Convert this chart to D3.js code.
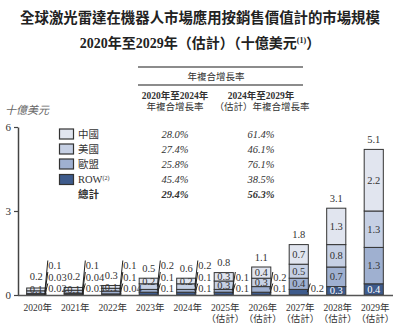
<!DOCTYPE html>
<html>
<head>
<meta charset="utf-8">
<script src="https://cdn.jsdelivr.net/npm/d3@7"></script>
<style>
  body { margin: 0; background: #fff; }
  svg { display: block; }
  text { fill: #333; }
</style>
</head>
<body>
<div id="chart"></div>
<script>
// data
const years = ['2020', '2021', '2022', '2023', '2024', '2025', '2026', '2027', '2028', '2029'];
const estimated = [false, false, false, false, false, true, true, true, true, true];
const china = [0.1, 0.1, 0.1, 0.2, 0.2, 0.3, 0.4, 0.7, 1.3, 2.2];
const usa = [0.1, 0.1, 0.1, 0.2, 0.2, 0.3, 0.3, 0.5, 0.8, 1.3];
const eu = [0.03, 0.04, 0.1, 0.1, 0.1, 0.1, 0.2, 0.4, 0.7, 1.3];
const rowData = [0.02, 0.03, 0.04, 0.1, 0.1, 0.1, 0.1, 0.2, 0.3, 0.4];
const totals = ['0.2', '0.2', '0.3', '0.5', '0.6', '0.8', '1.1', '1.8', '3.1', '5.1'];

const regions = ['中國', '美國', '歐盟', 'ROW'];
const cagr2020to2024 = ['28.0%', '27.4%', '25.8%', '45.4%', '29.4%'];
const cagr2024to2029 = ['61.4%', '46.1%', '76.1%', '38.5%', '56.3%'];
const yTicks = [0, 3, 6];

const colors = { 'ROW': '#3e5b8c', '歐盟': '#9fb0d0', '美國': '#c6d0e4', '中國': '#e1e5ef' };
const serif = '"Liberation Serif", "Noto Sans CJK TC", serif';
const cjk = '"Noto Sans CJK TC", sans-serif';

const W = 407, H = 333;
const svg = d3.select('#chart').append('svg')
    .attr('width', W)
    .attr('height', H);

// title
svg.append('text')
    .attr('x', 200).attr('y', 23)
    .attr('text-anchor', 'middle')
    .style('font-family', cjk).style('font-weight', 'bold').style('font-size', '14.4px')
    .style('fill', '#222')
    .text('全球激光雷達在機器人市場應用按銷售價值計的市場規模');
const t2 = svg.append('text')
    .attr('x', 200).attr('y', 48)
    .attr('text-anchor', 'middle')
    .style('font-family', serif).style('font-weight', 'bold').style('font-size', '14px')
    .style('fill', '#222');
t2.append('tspan').text('2020年至2029年（估計）（十億美元');
t2.append('tspan').attr('dy', -5).style('font-size', '8px').text('(1)');
t2.append('tspan').attr('dy', 5).text('）');

// scales
const x = d3.scaleBand().domain(years).range([17.5, 392.5]).paddingInner(0.49).paddingOuter(0.245);
const y = d3.scaleLinear().domain([0, 6]).range([295, 127]);

// stacked data, bottom to top
const keys = ['ROW', '歐盟', '美國', '中國'];
const table = years.map((yr, i) => ({
    year: yr, 'ROW': rowData[i], '歐盟': eu[i], '美國': usa[i], '中國': china[i]
}));
const series = d3.stack().keys(keys)(table);

// axes
const yAxis = svg.append('g')
    .attr('transform', 'translate(18,0)')
    .call(d3.axisLeft(y).tickValues(yTicks).tickFormat(d3.format('d'))
        .tickSize(4).tickSizeOuter(0).tickPadding(3));
yAxis.select('.domain').attr('stroke', '#444').attr('stroke-width', 1.5);
yAxis.selectAll('.tick line').attr('stroke', '#444').attr('stroke-width', 1.2);
yAxis.selectAll('.tick text').style('font-family', serif).style('font-size', '11px').attr('fill', '#333');

svg.append('text')
    .attr('x', 5).attr('y', 114)
    .style('font-family', cjk).style('font-style', 'italic').style('font-size', '11px')
    .style('fill', '#666')
    .text('十億美元');

// bars
svg.append('g').selectAll('g')
    .data(series)
    .join('g')
    .attr('fill', d => colors[d.key])
    .selectAll('rect')
    .data(d => d)
    .join('rect')
    .attr('x', d => x(d.data.year))
    .attr('y', d => y(d[1]))
    .attr('width', x.bandwidth())
    .attr('height', d => y(d[0]) - y(d[1]))
    .attr('stroke', '#333')
    .attr('stroke-width', 1);

const xAxis = svg.append('g')
    .attr('transform', 'translate(0,295)')
    .call(d3.axisBottom(x).tickSize(0).tickFormat(''));
xAxis.select('.domain').attr('stroke', '#555').attr('stroke-width', 1.5);

// x labels
years.forEach((yr, i) => {
    const cx = x(yr) + x.bandwidth() / 2 + 1.5;
    svg.append('text')
        .attr('x', cx).attr('y', 311)
        .attr('text-anchor', 'middle')
        .style('font-family', serif).style('font-size', '9.5px')
        .text(yr + '年');
    if (estimated[i]) {
        svg.append('text')
            .attr('x', cx).attr('y', 322)
            .attr('text-anchor', 'middle')
            .style('font-family', cjk).style('font-size', '9.5px')
            .text('（估計）');
    }
});

// value labels
const slots = [288.5, 277, 265.5];
const labels = svg.append('g');
years.forEach((yr, i) => {
    const left = x(yr);
    const right = left + x.bandwidth();
    const cx = left + x.bandwidth() / 2;
    let slot = 0;
    series.forEach(s => {
        const d = s[i];
        const v = d.data[s.key];
        const mid = (y(d[0]) + y(d[1])) / 2;
        const inside = s.key === '中國' || v >= 0.3;
        if (inside) {
            labels.append('text')
                .attr('x', cx).attr('y', mid)
                .attr('dy', '0.35em')
                .attr('text-anchor', 'middle')
                .style('font-family', serif).style('font-size', '10.5px')
                .style('fill', s.key === 'ROW' ? '#fff' : '#333')
                .text(v);
        } else {
            const ly = slots[slot++];
            labels.append('line')
                .attr('x1', right - 1).attr('y1', mid)
                .attr('x2', right + 2).attr('y2', ly - 5)
                .attr('stroke', '#222').attr('stroke-width', 1);
            labels.append('text')
                .attr('x', right + 2.5).attr('y', ly)
                .attr('dy', '0.35em')
                .style('font-family', serif).style('font-size', '10.5px')
                .text(v);
        }
    });
    const top = series[series.length - 1][i][1];
    labels.append('text')
        .attr('x', cx).attr('y', Math.min(y(top) - 10, 276))
        .attr('dy', '0.35em')
        .attr('text-anchor', 'middle')
        .style('font-family', serif).style('font-size', '10.5px')
        .text(totals[i]);
});

// CAGR table header
const hdr = svg.append('g');
[67, 85].forEach(yy => {
    hdr.append('line')
        .attr('x1', 138).attr('x2', 303).attr('y1', yy).attr('y2', yy)
        .attr('stroke', '#666').attr('stroke-width', 1.6);
});
hdr.append('text').attr('x', 216).attr('y', 79.5).attr('text-anchor', 'middle')
    .style('font-family', cjk).style('font-size', '9.5px').text('年複合增長率');
hdr.append('text').attr('x', 175).attr('y', 99).attr('text-anchor', 'middle')
    .style('font-family', serif).style('font-weight', 'bold').style('font-size', '9.5px').text('2020年至2024年');
hdr.append('text').attr('x', 175).attr('y', 110).attr('text-anchor', 'middle')
    .style('font-family', cjk).style('font-size', '9.5px').text('年複合增長率');
hdr.append('text').attr('x', 261).attr('y', 99).attr('text-anchor', 'middle')
    .style('font-family', serif).style('font-weight', 'bold').style('font-size', '9.5px').text('2024年至2029年');
hdr.append('text').attr('x', 262).attr('y', 110).attr('text-anchor', 'middle')
    .style('font-family', cjk).style('font-size', '9.5px').text('（估計）年複合增長率');

// legend rows
const rowY = [134, 149, 164, 179.5, 194.5];
const legendRows = regions.concat(['總計']);
legendRows.forEach((name, i) => {
    const ry = rowY[i];
    const bold = name === '總計';
    if (!bold) {
        hdr.append('rect')
            .attr('x', 59.5).attr('y', ry - 5)
            .attr('width', 14).attr('height', 10)
            .attr('fill', colors[name]).attr('stroke', '#333').attr('stroke-width', 1.2);
    }
    const t = hdr.append('text').attr('x', 78).attr('y', ry).attr('dy', '0.35em')
        .style('font-family', serif).style('font-size', '10.5px')
        .style('font-weight', bold ? 'bold' : 'normal');
    t.append('tspan').text(name);
    if (name === 'ROW') {
        t.append('tspan').attr('dy', -3).style('font-size', '6px').text('(2)');
    }
    hdr.append('text').attr('x', 175).attr('y', ry).attr('dy', '0.35em')
        .attr('text-anchor', 'middle')
        .style('font-family', serif).style('font-style', 'italic').style('font-size', '10.5px')
        .style('font-weight', bold ? 'bold' : 'normal')
        .text(cagr2020to2024[i]);
    hdr.append('text').attr('x', 261).attr('y', ry).attr('dy', '0.35em')
        .attr('text-anchor', 'middle')
        .style('font-family', serif).style('font-style', 'italic').style('font-size', '10.5px')
        .style('font-weight', bold ? 'bold' : 'normal')
        .text(cagr2024to2029[i]);
});
</script>
</body>
</html>
